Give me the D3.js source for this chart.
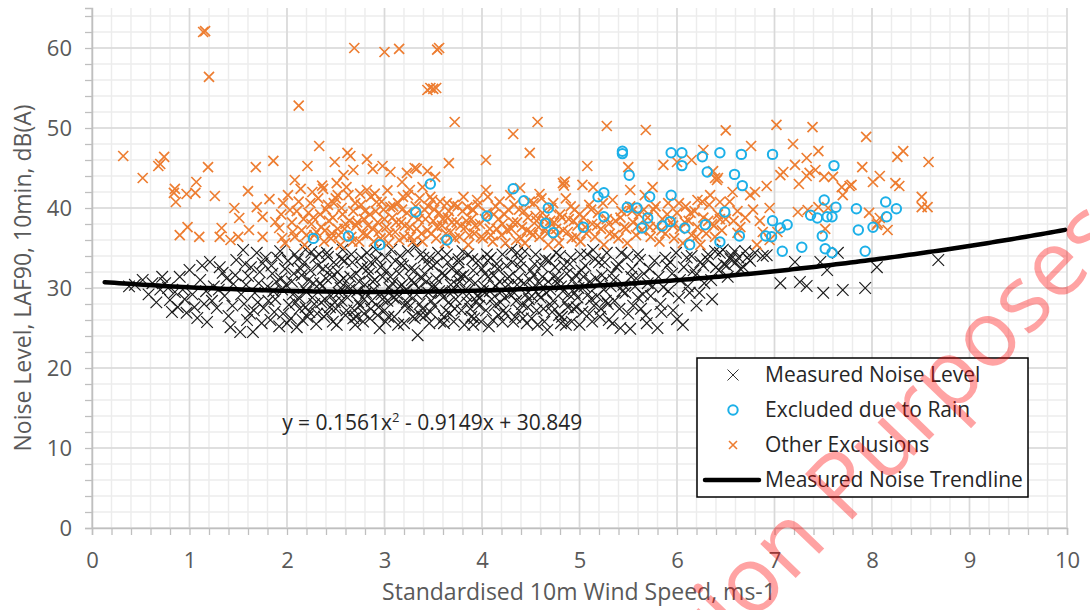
<!DOCTYPE html>
<html>
<head>
<meta charset="utf-8">
<script src="https://cdn.jsdelivr.net/npm/d3@7"></script>
<style>
  body { margin: 0; background: #fff; }
  svg text { font-family: "Open Sans", sans-serif; }
</style>
</head>
<body>
<svg id="chart" width="1090" height="610"></svg>
<script>
// measured noise level points [wind speed, dB(A)]
const measuredNoise = [
  [0.38,30.2],[0.44,30.4],[0.52,31],[0.62,30.6],[0.70,29.8],[0.75,30.6],[0.80,28.5],[0.85,29.5],[0.88,27.6],[0.90,31.4],
  [0.95,28.6],[0.97,26.9],[1.0,32.25],[1.03,29.2],[1.08,26.25],[1.11,31],[1.15,28],[1.18,25.75],[1.21,33.25],[1.25,30.2],
  [1.28,27.5],[1.31,32.6],[1.34,31.9],[1.36,29],[1.40,26.5],[1.42,25.1],[1.45,30.5],[1.48,33.5],[1.52,24.5],[1.55,34.75],
  [1.56,28],[1.60,31.5],[1.62,26.8],[1.65,24.5],[1.67,29.4],[1.69,34.4],[1.72,32],[1.75,33.1],[1.76,27.5],[1.80,30.2],
  [1.83,26],[1.85,31.8],[1.88,28.6],[1.90,33.8],[1.92,25.2],[1.95,29.8],[1.98,32.4],[2.0,25.6],[2.02,27.9],[2.05,30.8],
  [2.08,34.2],[2.10,25.1],[2.12,28.8],[2.15,31.6],[2.16,26],[2.18,33.2],[2.20,29.5],[2.23,27],[2.25,34.5],[2.27,30.6],
  [2.30,25.5],[2.32,32.8],[2.35,28.2],[2.38,26.4],[2.40,31.2],[2.42,33.9],[2.45,29],[2.47,25.8],[2.50,27.4],[2.52,32],
  [2.55,30],[2.57,34.8],[2.60,26.6],[2.62,28.8],[2.65,31.4],[2.67,33.2],[2.70,25.4],[2.72,29.6],[2.75,27.8],[2.77,32.6],
  [2.80,30.4],[2.82,34.4],[2.85,26.2],[2.87,28.4],[2.90,31],[2.92,33.6],[2.95,25],[2.97,29.2],[3.0,27.2],[3.02,32.2],
  [3.05,30],[3.07,34.8],[3.10,26.4],[3.12,28.6],[3.15,31.8],[3.17,33],[3.20,25.6],[3.22,29.8],[3.25,27.6],[3.27,32.4],
  [3.30,30.6],[3.32,35.2],[3.34,24.1],[3.36,28],[3.38,31.2],[3.40,33.8],[3.42,26.6],[3.45,29.4],[3.47,27],[3.50,32.8],
  [3.52,30.2],[3.55,34.4],[3.57,25.8],[3.60,28.8],[3.62,31.6],[3.65,33.2],[3.67,26.8],[3.70,29.6],[3.72,27.4],[3.75,32],
  [3.77,30.8],[3.80,34.6],[3.82,25.4],[3.85,28.2],[3.87,31],[3.90,33.6],[3.92,26.2],[3.95,29],[3.97,27.8],[4.0,32.4],
  [4.02,30.2],[4.05,34.2],[4.07,25.2],[4.10,28.6],[4.12,31.6],[4.15,33],[4.17,26.6],[4.20,29.6],[4.22,27.2],[4.25,32.8],
  [4.27,30.4],[4.30,34.8],[4.32,25.8],[4.35,28.4],[4.37,31.2],[4.40,33.4],[4.42,26.2],[4.45,29.2],[4.47,27.6],[4.50,32.2],
  [4.52,30],[4.55,34.2],[4.57,25.4],[4.60,28.8],[4.62,31.4],[4.65,33.6],[4.67,24.75],[4.70,29.8],[4.72,27],[4.75,32.6],
  [4.77,30.6],[4.80,34],[4.82,26.4],[4.85,28.2],[4.87,31.8],[4.90,33],[4.92,25.8],[4.95,29.4],[4.97,27.6],[5.0,25.4],
  [5.02,32.2],[5.05,30.2],[5.08,34.2],[5.10,26.8],[5.12,28.6],[5.14,34.75],[5.17,31.2],[5.20,33.2],[5.22,27.4],[5.25,29.8],
  [5.28,34.4],[5.30,26],[5.33,31.8],[5.36,28.4],[5.40,33],[5.42,25],[5.45,30.4],[5.49,33.9],[5.52,24.9],[5.55,27.8],
  [5.58,31.2],[5.62,33.5],[5.65,29.2],[5.68,26.6],[5.72,32.4],[5.75,30.2],[5.80,25],[5.83,28],[5.86,30.1],[5.90,32.8],
  [5.93,33.25],[5.96,27.2],[6.0,26.1],[6.03,31],[6.06,25.4],[6.10,33.8],[6.13,29.4],[6.17,32.2],[6.20,27.8],[6.24,33.25],
  [6.28,30.6],[6.32,34.2],[6.36,28.6],[6.40,32.6],[6.44,34.4],[6.48,33],[6.52,31.4],[6.56,34],[6.60,33.2],[6.65,32.4],
  [6.70,34.6],[6.75,33.4],[6.88,34],[6.92,34.1],[7.06,30.6],[7.21,33.25],[7.26,30.75],[7.33,30.25],[7.47,33.25],[7.50,29.4],
  [7.54,32.25],[7.65,34.4],[7.70,29.75],[7.93,30],[8.05,32.6],[8.68,33.5],
  [1.58,30.4],[1.70,28.2],[1.86,29.6],[1.94,31.2],[2.06,29.2],[2.14,32.4],[2.22,31],[2.28,28],[2.36,30.2],[2.44,32.2],
  [2.53,29.4],[2.58,31.2],[2.64,29.8],[2.69,27.2],[2.74,30.8],[2.79,28.6],[2.84,31.8],[2.89,29.8],[2.94,27.6],[2.98,31.4],
  [3.03,28.4],[3.08,30.6],[3.13,29.2],[3.18,30.4],[3.23,28.2],[3.28,31],[3.33,29.2],[3.37,26.6],[3.43,30.8],[3.48,28.4],
  [3.53,31.2],[3.58,29.4],[3.63,27.2],[3.68,30.4],[3.73,28.6],[3.78,31.4],[3.83,29.8],[3.88,27.4],[3.93,30.6],[3.98,28.8],
  [4.03,31.8],[4.08,29.6],[4.13,27.8],[4.18,30.8],[4.23,28.8],[4.28,31.4],[4.33,29.4],[4.38,27.2],[4.43,30.6],[4.48,28.6],
  [4.53,31.6],[4.58,29.2],[4.63,27.4],[4.68,30.8],[4.73,28.4],[4.78,31.2],[4.83,29.6],[4.88,27.6],[4.93,31],[4.98,28.8],
  [5.04,31.4],[5.09,29.2],[5.15,27.8],[5.21,30.6],[5.27,28.4],[5.35,31],[5.44,29.6],[5.53,31.4],[5.60,28.8],[5.70,30.6],
  [2.33,34.2],[2.56,33.6],[2.86,33.2],[3.16,34],[3.46,33.8],[3.76,33.2],[4.06,33.4],[4.36,34.4],[2.41,26.8],[2.71,26.4],
  [3.01,25.8],[3.31,26.2],[3.61,25.6],[3.91,25.4],[4.21,25.8],[4.51,26.2],[4.81,25.6],[2.19,27.6],[2.49,28.2],[2.79,26.8],
  [1.44,27.8],[1.47,31.6],[1.53,29.2],[1.57,33],[1.59,26],[1.63,32.6],[1.66,27.2],[1.71,30.6],[1.74,25.6],[1.78,33.8],
  [1.81,28.4],[1.84,32.8],[1.87,27],[1.89,30.8],[1.93,34.6],[1.96,26.8],[1.99,30.4],[2.01,33.4],[2.04,26.2],[2.07,31.8],
  [2.09,28.2],[2.11,33.6],[2.13,27.4],[2.17,30],[2.19,34.8],[2.21,26.4],[2.24,32.2],[2.26,28.8],[2.29,33.8],[2.31,26.8],
  [2.34,30.6],[2.37,32.4],[2.39,28.6],[2.41,34.4],[2.44,27.6],[2.46,31.4],[2.48,33.2],[2.51,25.4],[2.54,30.8],[2.56,28.4],
  [2.59,33.4],[2.61,27.2],[2.63,30.2],[2.66,34.2],[2.68,26.2],[2.71,31.8],[2.73,28.2],[2.76,33.8],[2.78,25.8],[2.81,29.4],
  [2.83,32.4],[2.86,27.4],[2.88,30.8],[2.91,34.8],[2.93,26.6],[2.96,32.6],[2.98,28.6],[3.01,33.8],[3.04,26.4],[3.06,31.4],
  [3.09,28.8],[3.11,33.4],[3.14,25.4],[3.16,30.2],[3.19,32.8],[3.21,27.8],[3.24,34.6],[3.26,29],[3.29,26.4],[3.31,32.2],
  [3.35,30],[3.37,34.2],[3.39,27.4],[3.41,31.8],[3.44,33],[3.46,25.6],[3.49,30.2],[3.51,27.8],[3.54,33.2],[3.56,29.6],
  [3.59,31.8],[3.61,26.4],[3.64,34.2],[3.66,28.2],[3.69,32.4],[3.71,25.8],[3.74,30.4],[3.76,33.6],[3.79,27.2],[3.81,31.6],
  [3.84,29],[3.86,34.2],[3.89,26.4],[3.91,32.2],[3.94,28.4],[3.96,33.4],[3.99,25.8],[4.01,29.6],[4.04,27.2],[4.06,31.4],
  [4.09,33.8],[4.11,26],[4.14,30.2],[4.16,32.4],[4.19,28.2],[4.21,34.2],[4.24,26.8],[4.26,31.2],[4.29,29.2],[4.31,33.2],
  [4.34,26.4],[4.36,30.4],[4.39,32.6],[4.41,28],[4.44,34.6],[4.46,25.6],[4.49,31],[4.51,29],[4.54,33],[4.56,27.2],
  [4.59,30.6],[4.61,32.8],[4.64,25.8],[4.66,29.4],[4.69,33.4],[4.71,27.8],[4.74,31.4],[4.76,34.4],[4.79,26.6],[4.81,30.2],
  [4.84,32.8],[4.86,25.4],[4.89,29.2],[4.91,33.8],[4.94,27.4],[4.96,31.6],[4.99,30],[5.01,34.2],[5.03,27],[5.06,32.8],
  [5.11,30.8],[5.13,25.8],[5.16,33.6],[5.18,29],[5.21,26.4],[5.23,31.6],[5.26,33.2],[5.29,28],[5.32,30.2],[5.34,25.6],
  [5.38,32.6],[5.41,27.4],[5.43,34.4],[5.47,29.4],[5.50,26.8],[5.54,32.4],[5.57,30.2],[5.60,34.2],[5.63,27.4],[5.66,31.8],
  [5.69,25.6],[5.73,29],[5.77,33.4],[5.81,31.4],[5.84,27],[5.88,33.8],[5.91,29.6],[5.95,31.8],[5.99,34.4],[6.02,28.8],
  [6.07,32.6],[6.11,30.2],[6.15,34],[6.19,31.6],[6.23,29.4],[6.27,32.8],[6.31,33.6],[6.35,31],[6.39,34.6],[6.43,32.2],
  [6.47,34.8],[6.51,32.8],[6.55,33.6],[6.59,34.6],[6.63,33.8],[6.68,32.6],[6.72,33.8],[6.80,34.4],[0.58,29.2],[0.66,28.2],
  [0.72,31.4],[0.78,30],[0.82,27],[0.93,29.8],[1.05,27.6],[1.13,32.8],[1.17,29.6],[1.23,28.4],[1.30,29.8],[1.38,31.2]
];

// points excluded due to rain
const rainExcluded = [
  [2.27,36.2],[2.63,36.5],[2.95,35.4],[3.32,39.5],[3.47,43.0],[3.64,36],[4.05,39],[4.32,42.4],[4.43,40.9],[4.65,38.1],
  [4.68,40],[4.73,36.9],[5.04,37.6],[5.19,41.4],[5.25,41.9],[5.25,38.9],[5.44,47.1],[5.44,46.8],[5.49,40.1],[5.51,44.1],
  [5.59,40],[5.64,37.5],[5.70,38.75],[5.72,41.4],[5.85,37.75],[5.93,38.3],[5.94,41.6],[5.94,46.9],[6.05,46.9],[6.05,45.3],
  [6.08,37.5],[6.13,35.4],[6.26,46.4],[6.29,37.9],[6.31,44.5],[6.44,46.9],[6.44,35.75],[6.49,39.5],[6.59,44.2],[6.64,36.5],
  [6.66,46.7],[6.67,42.8],[6.91,36.5],[6.97,36.4],[6.98,46.7],[6.98,38.4],[7.06,37.5],[7.08,34.6],[7.13,37.9],[7.28,35.1],
  [7.37,39.1],[7.44,38.75],[7.49,36.5],[7.52,34.9],[7.51,41],[7.54,38.9],[7.59,38.9],[7.59,34.4],[7.61,45.3],[7.63,40.1],
  [7.84,39.9],[7.86,37.25],[7.93,34.6],[8.01,37.6],[8.14,40.75],[8.15,38.9],[8.25,39.9]
];

// other exclusions
const otherExclusions = [
  [0.32,46.5],[0.52,43.75],[0.68,45.25],[0.70,45.5],[0.74,46.4],[0.84,41.9],[0.85,42.4],[0.86,40.75],[0.90,36.6],[0.97,41.75],
  [0.98,37.6],[1.06,41.9],[1.07,43.25],[1.10,36.4],[1.19,45.1],[1.26,41.5],[1.31,36.4],[1.33,37.5],[1.42,36],[1.46,40],
  [1.50,36.4],[1.51,38.75],[1.60,42.1],[1.61,37.25],[1.68,45.1],[1.69,40.1],[1.75,38.9],[1.75,36.4],[1.82,41.1],[1.86,45.9],
  [1.88,38.25],[1.95,36.25],[1.96,40.6],[2.03,39.75],[2.08,43.5],[2.12,52.8],[2.21,45.25],[2.26,42],[2.33,47.75],[2.37,42.4],
  [2.51,43.1],[2.52,41.6],[2.49,45.75],[2.62,46.9],[2.65,46.5],[2.58,44.1],[2.68,44.75],[2.82,46.1],[2.88,44.9],[2.98,45.25],
  [3.06,44.5],[3.18,43.25],[3.23,44.4],[3.31,45],[2.82,42.25],[2.92,40.75],[3.06,40.1],[3.19,41.4],
  [1.14,62],[1.16,62.1],[1.20,56.4],[2.69,60],[3.0,59.5],[3.15,59.9],[3.54,59.8],[3.56,60],[3.44,54.75],[3.47,55],
  [3.50,54.9],[3.53,55],[3.72,50.75],[4.32,49.25],[4.57,50.75],[5.28,50.25],[5.68,49.75],[6.50,49.7],[7.02,50.4],[7.39,50.1],
  [7.94,48.9],
  [3.33,44.9],[3.44,44.6],[3.52,43.9],[3.26,42.25],[3.39,42.6],[3.49,41],[3.64,40.6],[3.66,45.6],[3.85,40.1],[3.91,39.75],
  [4.04,46],[4.04,42.25],[4.39,42.5],[4.49,46.9],[4.59,41.75],[4.83,43.1],[4.85,43.3],[4.84,42.8],[5.03,42.9],[5.08,45.25],
  [5.14,42.6],[5.50,45.1],[5.52,42.25],[5.75,42.6],[5.86,45.4],[6.0,45.75],[6.15,46],[6.27,47.25],[6.39,43.75],[6.41,43.5],
  [6.21,41],[6.34,41.6],[6.44,40.75],
  [6.76,47.75],[7.19,48],[7.45,47.1],[8.26,46.4],[8.32,47.1],[8.58,45.75],[7.33,46.25],[7.90,45.1],[8.08,44],[7.09,44.5],
  [7.06,44.1],[7.21,45.4],[7.36,44.4],[7.33,44],[7.42,44.75],[7.51,43.9],[7.60,43.9],[7.25,43],[7.69,42.6],[7.77,42.75],
  [7.70,41.6],[8.01,43.25],[8.24,43.1],[8.28,42.75],[8.51,41.4],[8.57,40.1],[8.51,40.1],[6.92,42.75],[6.75,41.6],[6.80,42],
  [6.57,42],[6.42,43.75],[6.37,44.6],[6.95,40],[7.24,39.5],[7.34,39.75],[7.45,40.1],[7.55,40],[8.08,38.75],[8.16,37.25],
  [8.05,37.9],[7.52,37.4],[6.88,37],[6.95,36],[7.03,37],[6.82,35.4],[6.62,36.9],[6.65,37.6],[7.79,42.9],[7.97,39.4],
  [8.06,38.1],
  [1.92,37.5],[1.98,35.6],[2.05,38.2],[2.08,36.4],[2.12,40.8],[2.15,37.2],[2.18,35.4],[2.22,39.4],[2.25,38],[2.28,36.6],
  [2.32,41.2],[2.35,37.6],[2.38,35.8],[2.40,39.8],[2.43,38.4],[2.46,36.8],[2.48,40.6],[2.52,37.4],[2.55,35.4],[2.57,39.2],
  [2.60,38],[2.63,41.6],[2.66,36.4],[2.68,39.6],[2.71,37.8],[2.74,35.8],[2.76,40.4],[2.79,38.6],[2.82,36.6],[2.85,39.2],
  [2.88,37.4],[2.90,41.8],[2.93,38.2],[2.96,36.2],[2.99,39.8],[3.02,37.6],[3.04,35.6],[3.08,38.8],[3.11,37],[3.14,40.6],
  [3.17,38.2],[3.20,36.4],[3.23,39.4],[3.26,37.6],[3.29,35.8],[3.32,40.2],[3.35,38.6],[3.38,36.8],[3.41,39.8],[3.44,37.2],
  [3.47,41.4],[3.50,38.4],[3.53,36.2],[3.56,39.4],[3.59,37.8],[3.62,35.6],[3.65,38.8],[3.68,37],[3.71,40.4],[3.74,38.2],
  [3.77,36.4],[3.80,39.6],[3.83,37.6],[3.86,35.4],[3.89,38.6],[3.92,36.8],[3.95,41],[3.98,38],[4.01,36.2],[4.05,39.4],
  [4.08,37.4],[4.11,35.8],[4.14,40.2],[4.17,38.6],[4.20,36.6],[4.23,39.2],[4.26,37.2],[4.29,41.6],[4.32,38.2],[4.35,36],
  [4.38,39.8],[4.41,37.6],[4.44,35.6],[4.47,38.8],[4.50,37],[4.53,40.6],[4.56,38.4],[4.59,36.4],[4.62,39.4],[4.65,37.4],
  [4.68,35.4],[4.71,40],[4.74,38.2],[4.77,36.6],[4.80,39.2],[4.83,37.2],[4.86,41.2],[4.89,38.6],[4.92,36.2],[4.95,39.8],
  [4.98,37.8],[5.01,35.8],[5.04,38.8],[5.07,36.8],[5.10,40.4],[5.13,38],[5.16,36.4],[5.19,39.4],[5.22,37.4],[5.25,35.4],
  [5.28,38.6],[5.31,36.8],[5.34,41],[5.37,38.4],[5.40,36.2],[5.43,39.6],[5.46,37.6],[5.49,35.6],[5.52,40.2],[5.55,38.2],
  [5.58,36.6],[5.61,39.2],[5.64,37.2],[5.67,41.6],[5.70,38.8],[5.73,36.4],[5.76,39.8],[5.79,37.6],[5.82,35.8],[5.85,38.6],
  [5.88,36.8],[5.91,40.6],[5.94,38.2],[5.97,36.2],[6.0,39.4],[6.03,37.4],[6.06,35.6],[6.09,40.2],[6.12,38.4],[6.15,36.6],
  [6.18,39.6],[6.21,37.6],[6.24,35.4],[6.27,38.8],[6.30,36.8],[6.33,40.4],[6.36,38],[6.39,36.4],[6.42,39.2],[6.46,37.2],
  [6.50,38.6],[6.54,40.8],[6.58,38.4],[6.62,39.6],[6.70,38.8],[6.78,39.8],[6.85,38.4],
  [1.94,39.2],[2.01,41.6],[2.06,37],[2.10,39.6],[2.14,42.4],[2.17,38.6],[2.20,36.6],[2.24,40.6],[2.27,38.8],[2.30,37],
  [2.34,39.2],[2.36,42.8],[2.39,37.2],[2.42,40.4],[2.45,36.2],[2.47,38.8],[2.50,41.2],[2.53,36.6],[2.56,40],[2.59,37.4],
  [2.61,42.6],[2.64,38.4],[2.67,35.8],[2.70,40.6],[2.72,38.2],[2.75,41.8],[2.78,36.8],[2.80,39.6],[2.83,37.8],[2.86,41.4],
  [2.89,35.8],[2.91,39.6],[2.94,37],[2.97,40.8],[3.00,38.6],[3.03,42.2],[3.05,36.8],[3.09,40.2],[3.12,38.2],[3.15,36],
  [3.18,39.8],[3.21,37.8],[3.24,41.6],[3.27,36.4],[3.30,39],[3.33,37.4],[3.36,41.2],[3.39,35.8],[3.42,38.6],[3.45,40.2],
  [3.48,36.8],[3.51,39.8],[3.54,37.6],[3.57,40.8],[3.60,38.6],[3.63,36.8],[3.66,39.6],[3.69,38.2],[3.72,36.2],[3.75,40.2],
  [3.78,37.8],[3.81,41.4],[3.84,38.4],[3.87,36.6],[3.90,39.8],[3.93,37.8],[3.96,40.4],[3.99,36.4],[4.03,38.6],[4.06,41.4],
  [4.09,36.6],[4.12,39.2],[4.15,37.4],[4.18,40.8],[4.21,38],[4.24,35.6],[4.27,39.8],[4.30,37.4],[4.33,40.4],[4.36,38.2],
  [4.40,36.2],[4.43,39.6],[4.46,37.2],[4.49,40.8],[4.52,36.6],[4.55,39],[4.58,37.6],[4.61,41.2],[4.64,38.6],[4.67,36.8],
  [4.70,38.4],[4.73,40.6],[4.76,37.4],[4.79,35.6],[4.82,38.8],[4.88,37],[4.91,40.2],[4.94,38.4],[4.97,36.4],[5.00,39.2],
  [5.06,37.6],[5.12,39.8],[5.18,37.8],[5.24,40.6],[5.30,38],[5.36,36.6],[5.42,38.8],[5.48,37.4],[5.54,39.6],[5.60,37.8],
  [5.66,39.8],[5.72,37.6],[5.78,40.2],[5.84,37.2],[5.90,39.2],[5.96,37.8],[6.02,40.6],[6.08,38.2],[6.14,39.4],[6.20,36.4],
  [6.26,40.8],[6.32,38.4],[6.38,37.8],[6.44,38.6]
];

// trendline y = a x^2 + b x + c, drawn over this wind speed range
const trendCoef = [0.1561, -0.9149, 30.849];
const trendRange = [0.13, 10];

const xTicks = [0, 1, 2, 3, 4, 5, 6, 7, 8, 9, 10];
const yTicks = [0, 10, 20, 30, 40, 50, 60];
const legendLabels = ["Measured Noise Level", "Excluded due to Rain", "Other Exclusions", "Measured Noise Trendline"];

const svg = d3.select("svg#chart"),
      margin = {top: 8, right: 23, bottom: 82, left: 92},
      width = +svg.attr("width") - margin.left - margin.right,
      height = +svg.attr("height") - margin.top - margin.bottom;

const x = d3.scaleLinear().domain([0, 10]).range([0, width]);
const y = d3.scaleLinear().domain([0, 65]).range([height, 0]);

const g = svg.append("g").attr("transform", `translate(${margin.left},${margin.top})`);

// GRID
const minorX = d3.range(0, 10.001, 0.2), minorY = d3.range(0, 65, 2);
g.append("g").selectAll("line").data(minorX).enter().append("line")
  .attr("x1", d => x(d)).attr("x2", d => x(d)).attr("y1", 0).attr("y2", height)
  .attr("stroke", "#ececec").attr("stroke-width", 1.4);
g.append("g").selectAll("line").data(minorY).enter().append("line")
  .attr("y1", d => y(d)).attr("y2", d => y(d)).attr("x1", 0).attr("x2", width)
  .attr("stroke", "#ececec").attr("stroke-width", 1.4);
g.append("g").selectAll("line").data(xTicks).enter().append("line")
  .attr("x1", d => x(d)).attr("x2", d => x(d)).attr("y1", 0).attr("y2", height)
  .attr("stroke", "#d9d9d9").attr("stroke-width", 1.6);
g.append("g").selectAll("line").data(yTicks).enter().append("line")
  .attr("y1", d => y(d)).attr("y2", d => y(d)).attr("x1", 0).attr("x2", width)
  .attr("stroke", "#d9d9d9").attr("stroke-width", 1.6);

// AXES
const xAxis = g.append("g").attr("transform", `translate(0,${height})`)
  .call(d3.axisBottom(x).tickValues(minorX).tickSize(7).tickFormat(""));
const xLabels = g.append("g").attr("transform", `translate(0,${height})`)
  .call(d3.axisBottom(x).tickValues(xTicks).tickSize(0).tickPadding(24));
const yAxis = g.append("g")
  .call(d3.axisLeft(y).tickValues(minorY).tickSize(7).tickFormat(""));
const yLabels = g.append("g")
  .call(d3.axisLeft(y).tickValues(yTicks).tickSize(0).tickPadding(20));

[xAxis, yAxis].forEach(a => {
  a.select(".domain").attr("stroke", "#bfbfbf").attr("stroke-width", 1.5);
  a.selectAll(".tick line").attr("stroke", "#bfbfbf").attr("stroke-width", 1.3);
});
[xLabels, yLabels].forEach(a => {
  a.select(".domain").remove();
  a.selectAll("text").attr("fill", "#595959").style("font-size", "22px")
    .style("font-family", "'Open Sans', sans-serif");
});
xLabels.selectAll("text").attr("dy", "0.71em");

// POINTS
const crossPath = (s) => `M${-s},${-s}L${s},${s}M${-s},${s}L${s},${-s}`;

g.append("g").selectAll("path").data(measuredNoise).enter().append("path")
  .attr("transform", d => `translate(${x(d[0])},${y(d[1])})`)
  .attr("d", crossPath(5.8))
  .attr("fill", "none").attr("stroke", "#1a1a1a").attr("stroke-width", 1.15);

g.append("g").selectAll("path").data(otherExclusions).enter().append("path")
  .attr("transform", d => `translate(${x(d[0])},${y(d[1])})`)
  .attr("d", crossPath(5))
  .attr("fill", "none").attr("stroke", "#ed7d31").attr("stroke-width", 1.7);

g.append("g").selectAll("circle").data(rainExcluded).enter().append("circle")
  .attr("cx", d => x(d[0])).attr("cy", d => y(d[1])).attr("r", 4.7)
  .attr("fill", "none").attr("stroke", "#1cb0e8").attr("stroke-width", 2);

// TRENDLINE
const trendY = (v) => trendCoef[0] * v * v + trendCoef[1] * v + trendCoef[2];
const trendPts = d3.range(trendRange[0], trendRange[1] + 0.001, 0.05).map(v => [v, trendY(v)]);
g.append("path").datum(trendPts)
  .attr("d", d3.line().x(d => x(d[0])).y(d => y(d[1])))
  .attr("fill", "none").attr("stroke", "#000").attr("stroke-width", 4.5)
  .attr("stroke-linecap", "round");

// equation label
g.append("text")
  .attr("x", x(1.95)).attr("y", y(12.2))
  .attr("fill", "#262626").style("font-size", "21px")
  .html("y = 0.1561x<tspan dy='-8' style='font-size:13px'>2</tspan><tspan dy='8'> - 0.9149x + 30.849</tspan>");

// AXIS TITLES
svg.append("text")
  .attr("x", 579).attr("y", 600)
  .attr("text-anchor", "middle").attr("fill", "#595959").style("font-size", "23px")
  .text("Standardised 10m Wind Speed, ms-1");
svg.append("text")
  .attr("transform", "translate(31,278) rotate(-90)")
  .attr("text-anchor", "middle").attr("fill", "#595959").style("font-size", "23px")
  .text("Noise Level, LAF90, 10min, dB(A)");

// LEGEND
const legend = svg.append("g").attr("transform", "translate(697,358)");
legend.append("rect").attr("width", 331).attr("height", 139)
  .attr("fill", "#fff").attr("stroke", "#000").attr("stroke-width", 1.5);
const rows = legend.selectAll(".row").data(legendLabels).enter().append("g")
  .attr("class", "row").attr("transform", (d, i) => `translate(0,${17 + i * 35})`);
rows.append("text").attr("x", 68).attr("dy", "0.35em")
  .attr("fill", "#262626").style("font-size", "21px").text(d => d);
rows.filter((d, i) => i === 0).append("path").attr("transform", "translate(36,0)")
  .attr("d", crossPath(5.5)).attr("fill", "none").attr("stroke", "#333").attr("stroke-width", 1);
rows.filter((d, i) => i === 1).append("circle").attr("cx", 36).attr("r", 4.7)
  .attr("fill", "none").attr("stroke", "#1cb0e8").attr("stroke-width", 2);
rows.filter((d, i) => i === 2).append("path").attr("transform", "translate(36,0)")
  .attr("d", crossPath(4)).attr("fill", "none").attr("stroke", "#ed7d31").attr("stroke-width", 1.6);
rows.filter((d, i) => i === 3).append("line").attr("x1", 8).attr("x2", 62)
  .attr("stroke", "#000").attr("stroke-width", 4.5).attr("stroke-linecap", "round");

// watermark
const mark = svg.append("g").attr("transform", "translate(846,526) rotate(-46)")
  .attr("fill", "#ff0000").attr("fill-opacity", 0.36).style("font-size", "92px");
mark.append("text").attr("text-anchor", "end").text("Consultation\u00a0");
mark.append("text").attr("text-anchor", "start").text("Purposes");
</script>
</body>
</html>
